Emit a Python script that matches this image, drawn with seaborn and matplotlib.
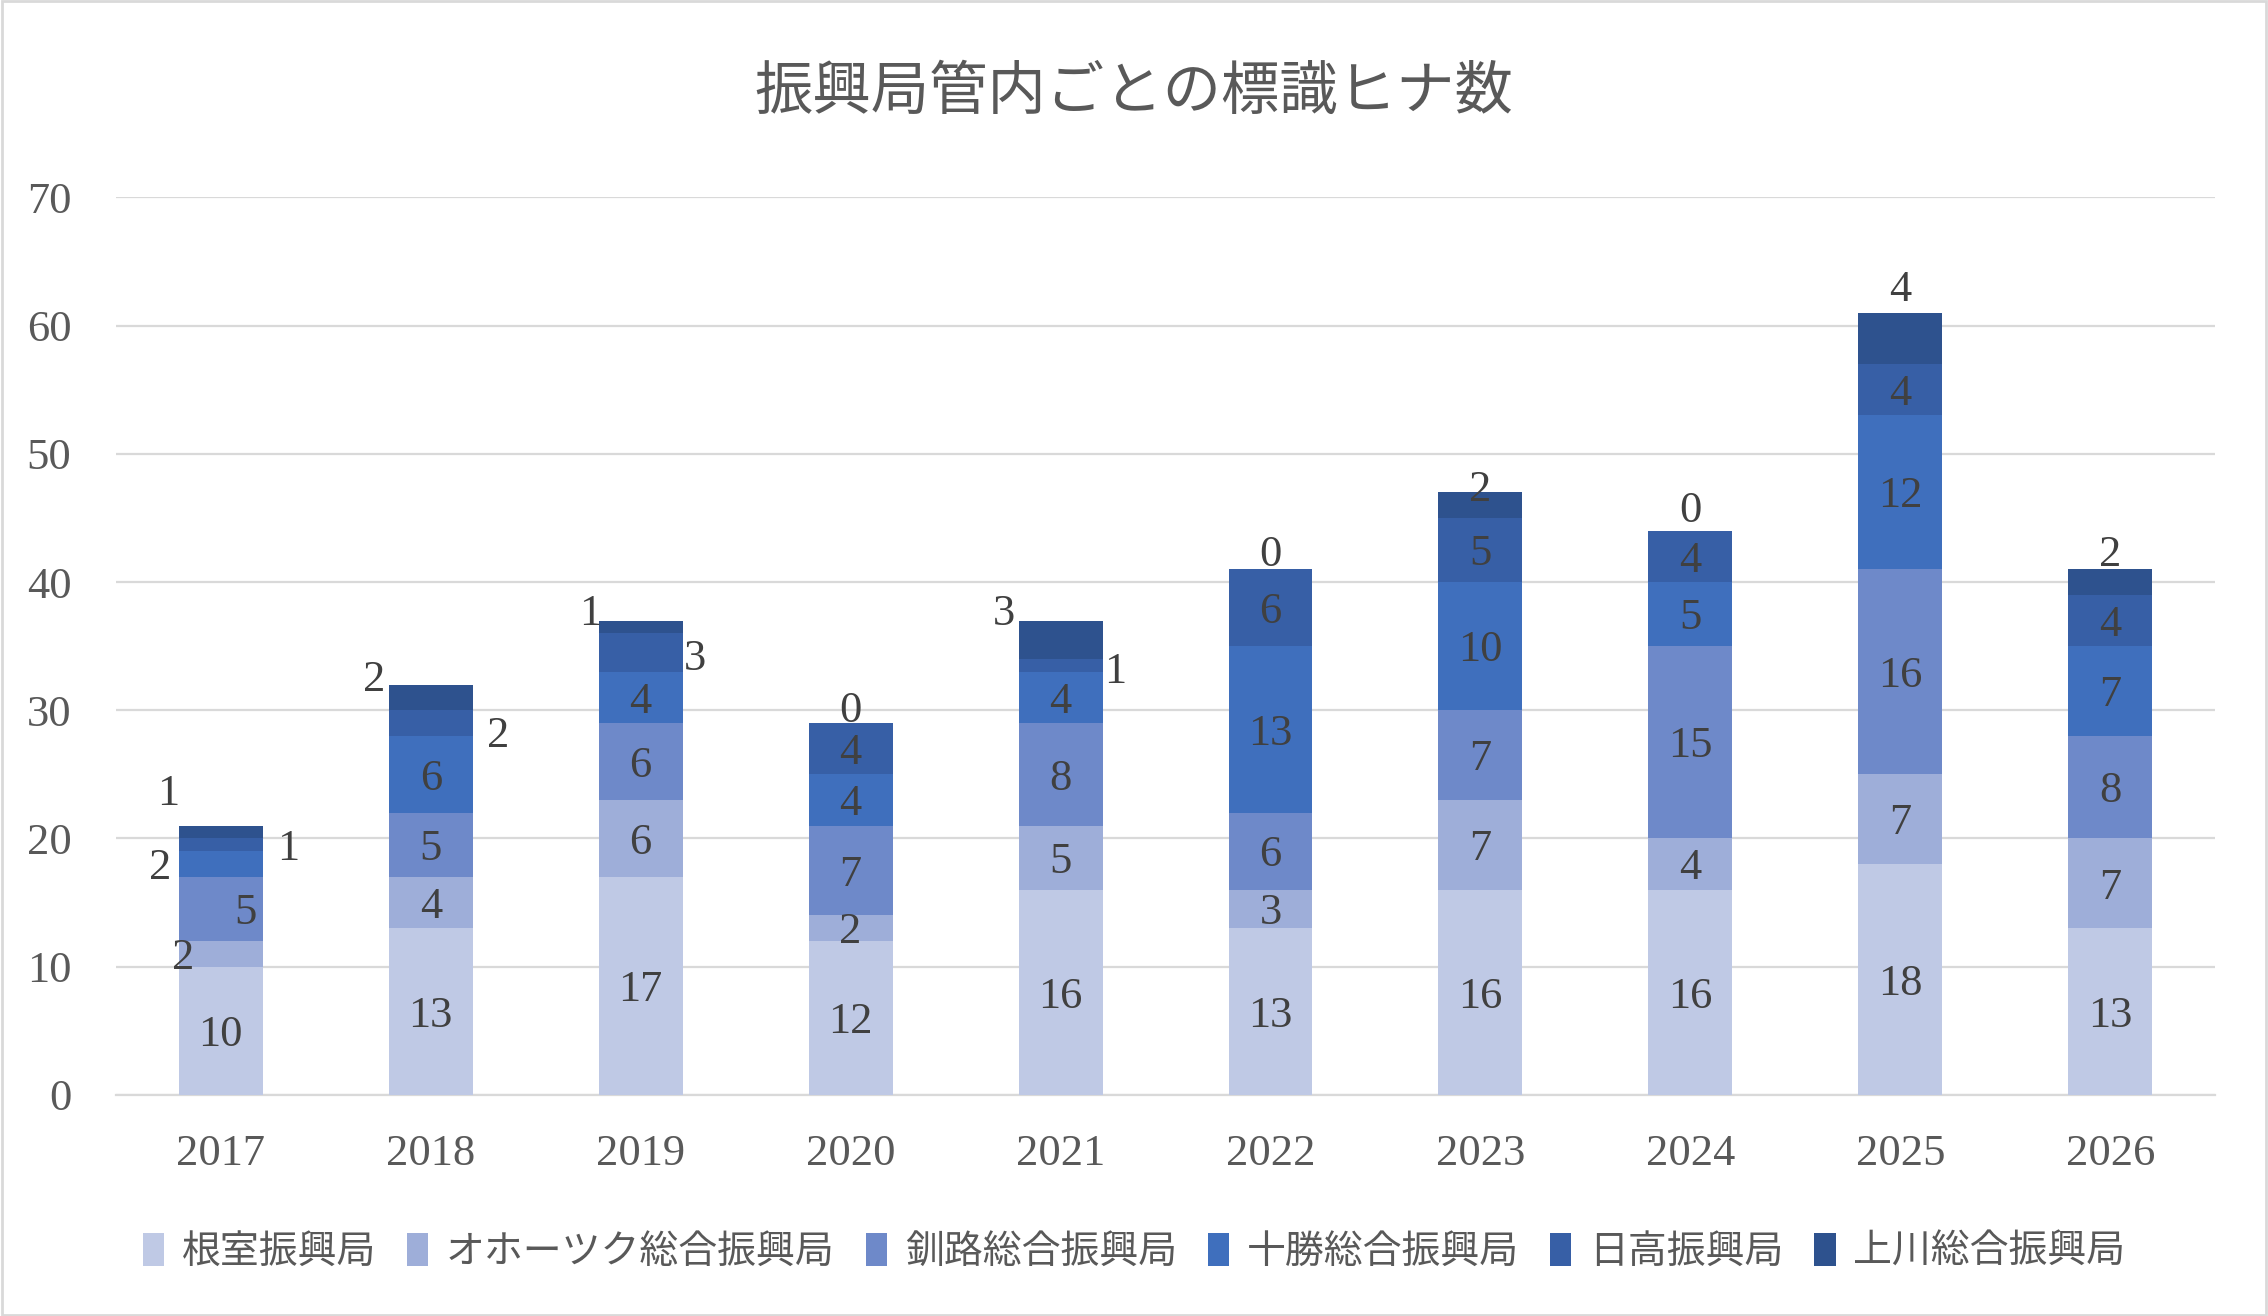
import matplotlib
matplotlib.use("Agg")
import matplotlib.pyplot as plt
import seaborn as sns
import numpy as np
import pandas as pd
from matplotlib.patches import Patch, Rectangle

# ---- data ----
years = ["2017", "2018", "2019", "2020", "2021", "2022", "2023", "2024", "2025", "2026"]
series_names = ["根室振興局", "オホーツク総合振興局", "釧路総合振興局",
                "十勝総合振興局", "日高振興局", "上川総合振興局"]
nemuro   = [10, 13, 17, 12, 16, 13, 16, 16, 18, 13]
okhotsk  = [2, 4, 6, 2, 5, 3, 7, 4, 7, 7]
kushiro  = [5, 5, 6, 7, 8, 6, 7, 15, 16, 8]
tokachi  = [2, 6, 4, 4, 4, 13, 10, 5, 12, 7]
hidaka   = [1, 2, 3, 4, 1, 6, 5, 4, 4, 4]
kamikawa = [1, 2, 1, 0, 3, 0, 2, 0, 4, 2]
series_values = [nemuro, okhotsk, kushiro, tokachi, hidaka, kamikawa]
yticks = [0, 10, 20, 30, 40, 50, 60, 70]

# ---- styles ----
colors = ["#bfc9e5", "#9eaed9", "#6e89c9", "#3f6fbd", "#375fa6", "#2e528e"]
# manual label offsets (dx in category units, dy in value units) keyed (year idx, series idx)
label_offsets = {
    (0, 1): (-0.18, 0.0), (0, 2): (0.115, 0.0), (0, 3): (-0.29, 0.0),
    (0, 4): (0.32, 0.0), (0, 5): (-0.25, 3.3),
    (1, 4): (0.32, -0.7), (1, 5): (-0.27, 1.7),
    (2, 4): (0.26, -0.2), (2, 5): (-0.24, 1.3),
    (3, 5): (0.0, 1.3),
    (4, 4): (0.26, -0.2), (4, 5): (-0.27, 2.3),
    (5, 5): (0.0, 1.4), (6, 5): (0.0, 1.5), (7, 5): (0.0, 1.9),
    (8, 5): (0.0, 4.1), (9, 5): (0.0, 2.4),
}

sns.set_theme(style="white")
plt.rcParams['font.family'] = ['Noto Sans CJK JP', 'DejaVu Sans']

fig = plt.figure(figsize=(11.34, 6.58), dpi=200)
ax = fig.add_axes([0.0511, 0.168, 0.9256, 0.682])

vals = np.array(series_values, dtype=float)
cum = np.cumsum(vals, axis=0)

# draw cumulative layers, top layer first so lower layers overlay
for i in range(len(series_names) - 1, -1, -1):
    df = pd.DataFrame({"year": years, "value": cum[i]})
    sns.barplot(data=df, x="year", y="value", order=years, color=colors[i],
                width=0.4, saturation=1, ax=ax, linewidth=0, zorder=3)

ax.set_ylim(0, 70)
ax.set_xlim(-0.5, len(years) - 0.5)
ax.set_yticks(yticks)
ax.set_xlabel("")
ax.set_ylabel("")
ax.grid(axis="y", color="#d9d9d9", linewidth=0.8, zorder=0)
ax.grid(axis="x", visible=False)
for s in ["top", "right", "left"]:
    ax.spines[s].set_visible(False)
ax.spines["bottom"].set_color("#d9d9d9")
ax.spines["bottom"].set_linewidth(0.8)
ax.tick_params(axis="both", length=0, labelsize=16, colors="#595959")
ax.tick_params(axis="y", pad=16)
ax.tick_params(axis="x", pad=14)
for lab in ax.get_xticklabels() + ax.get_yticklabels():
    lab.set_fontfamily(["Liberation Serif", "DejaVu Serif"])

# data labels
for j in range(len(years)):
    for i in range(len(series_names)):
        v = vals[i, j]
        top = cum[i, j]
        center = top - v / 2.0
        dx, dy = label_offsets.get((j, i), (0.0, 0.0))
        ax.annotate(f"{int(v)}", xy=(j + dx, center + dy), xytext=(0, -1.5),
                    textcoords="offset points", ha="center", va="center",
                    fontsize=16, color="#404040",
                    family=["Liberation Serif", "DejaVu Serif"], zorder=5)

# title
fig.text(0.5, 0.930, "振興局管内ごとの標識ヒナ数", ha="center", va="center",
         fontsize=21, color="#595959")

# legend
handles = [Patch(facecolor=c, edgecolor="none", label=n) for c, n in zip(colors, series_names)]
fig.legend(handles=handles, loc="center", bbox_to_anchor=(0.5, 0.0487), ncol=6,
           frameon=False, fontsize=14.0, handlelength=0.55, handleheight=0.9,
           handletextpad=0.45, columnspacing=0.8, labelcolor="#595959")

# figure border
fig.patches.append(Rectangle((0.001, 0.001), 0.998, 0.998, transform=fig.transFigure,
                             fill=False, edgecolor="#d9d9d9", linewidth=1.0))

fig.savefig("out.png", dpi=200)
